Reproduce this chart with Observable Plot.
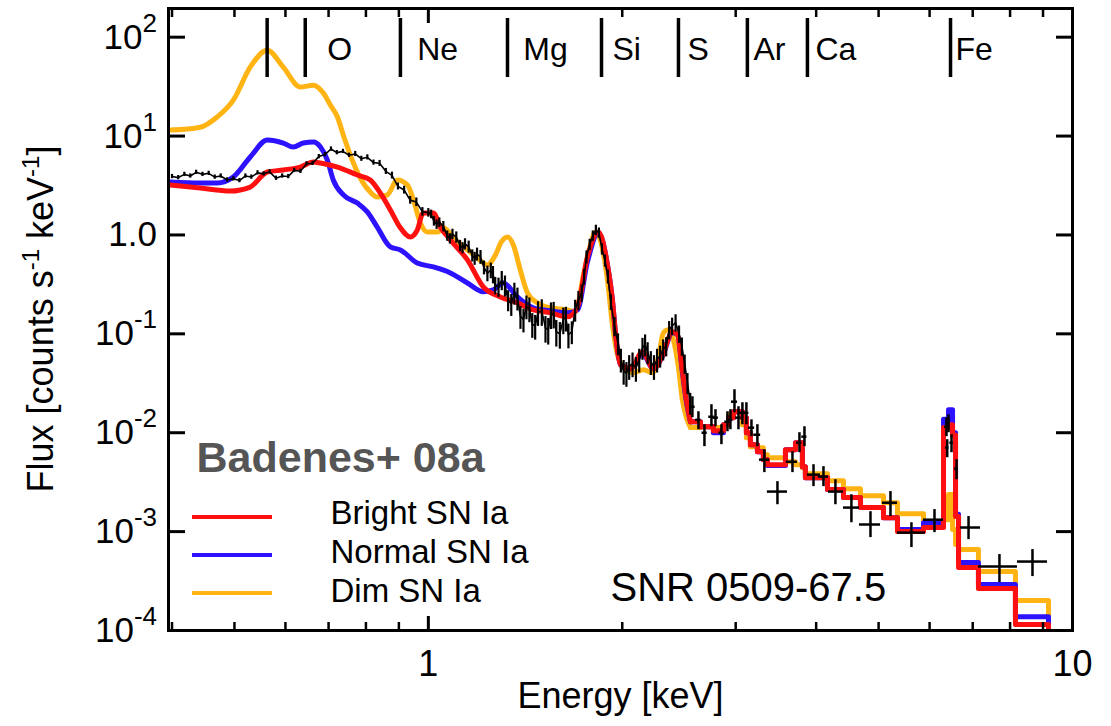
<!DOCTYPE html>
<html><head><meta charset="utf-8">
<script src="https://cdn.jsdelivr.net/npm/d3@7"></script>
<script src="https://cdn.jsdelivr.net/npm/@observablehq/plot@0.6"></script>
<style>
html,body{margin:0;padding:0;background:#fff;}
#chart{position:relative;width:1111px;height:726px;}
</style></head><body><div id="chart"></div>
<script>
// ---------- Data (energies in keV, flux in counts s^-1 keV^-1) ----------
// Observed spectrum, dense low-energy part
const dataE = [0.400,0.409,0.418,0.427,0.436,0.446,0.456,0.466,0.476,0.487,
  0.498,0.509,0.520,0.531,0.543,0.555,0.567,0.580,0.593,0.606,
  0.619,0.633,0.647,0.661,0.676,0.691,0.706,0.721,0.737,0.753,
  0.770,0.787,0.804,0.822,0.840,0.859,0.878,0.897,0.917,0.937,
  0.958,0.979,
  1.00,1.01,1.02,1.03,1.04,1.055,1.07,1.08,1.09,1.105,
  1.12,1.13,1.14,1.155,1.17,1.18,1.19,1.205,1.22,1.235,
  1.25,1.26,1.27,1.285,1.30,1.315,1.33,1.345,1.36,1.375,
  1.39,1.405,1.42,1.435,1.45,1.465,1.48,1.50,1.52,1.535,
  1.55,1.565,1.58,1.60,1.62,1.635,1.65,1.67,1.69,1.71,
  1.73,1.745,1.76,1.78,1.80,1.82,1.84,1.86,1.88,1.90,
  1.92,1.945,1.97,1.99,2.01,2.03,2.05,2.075,2.10,2.125,
  2.15,2.17,2.19,2.215,2.24,2.265,2.29,2.315,2.34,2.365,
  2.39,2.42,2.45,2.475,2.50,2.525,2.55];
const dataF = [3.9,3.8,4.1,3.95,4.3,4.1,4.2,3.85,3.95,3.6,
  3.7,3.55,3.95,3.85,4.25,4.15,4.35,3.75,3.95,3.9,
  4.5,4.4,5.25,5.3,6.2,6.5,7.4,6.8,7.0,6.4,
  6.6,5.9,6.1,5.4,5.3,4.4,4.0,3.1,2.85,2.25,
  2.15,1.72,
  1.68,1.62,1.38,1.28,1.34,1.22,0.98,0.92,1.02,0.95,
  0.78,0.74,0.81,0.76,0.62,0.58,0.64,0.6,0.47,0.41,
  0.44,0.4,0.31,0.3,0.35,0.31,0.22,0.2,0.26,0.23,
  0.15,0.14,0.19,0.18,0.125,0.12,0.165,0.17,0.115,0.11,
  0.158,0.16,0.105,0.1,0.14,0.145,0.098,0.105,0.175,0.22,
  0.26,0.38,0.6,0.8,0.98,1.12,1.05,0.72,0.55,0.38,
  0.21,0.12,0.08,0.055,0.042,0.04,0.047,0.05,0.045,0.055,
  0.072,0.078,0.065,0.052,0.047,0.055,0.06,0.07,0.075,0.11,
  0.12,0.13,0.1,0.075,0.05,0.032,0.02];
const dataErr = [0.05,0.05,0.05,0.05,0.05,0.05,0.05,0.05,0.05,0.05,
  0.05,0.05,0.05,0.05,0.05,0.05,0.05,0.05,0.05,0.05,
  0.05,0.05,0.05,0.05,0.05,0.05,0.05,0.05,0.05,0.05,
  0.06,0.06,0.06,0.06,0.07,0.07,0.08,0.08,0.09,0.09,
  0.10,0.10,
  0.10,0.10,0.11,0.11,0.11,0.12,0.12,0.12,0.12,0.13,
  0.13,0.13,0.13,0.14,0.14,0.15,0.15,0.16,0.16,0.18,
  0.18,0.20,0.20,0.22,0.22,0.24,0.24,0.25,0.25,0.26,
  0.26,0.27,0.27,0.28,0.28,0.28,0.28,0.30,0.30,0.30,
  0.30,0.30,0.30,0.30,0.30,0.28,0.28,0.26,0.25,0.22,
  0.20,0.18,0.15,0.13,0.12,0.12,0.12,0.13,0.14,0.16,
  0.18,0.22,0.25,0.27,0.28,0.28,0.28,0.28,0.28,0.27,
  0.25,0.25,0.25,0.27,0.28,0.27,0.25,0.24,0.22,0.21,
  0.20,0.20,0.20,0.21,0.22,0.24,0.25];

// Observed spectrum, binned high-energy part (crosses)
const crossE   = [2.570,2.626,2.683,2.751,2.791,2.851,2.913,2.944,2.987,3.030,3.073,3.117,3.174,3.242,3.324,3.483,3.675,3.768,3.836,3.962,4.106,4.285,4.537,4.857,5.217,5.623,6.106,6.373,6.420,6.390,6.489,6.607,6.896,7.702,8.667];
const crossELo = [2.545,2.600,2.660,2.725,2.765,2.825,2.885,2.915,2.955,3.000,3.045,3.090,3.140,3.200,3.266,3.360,3.596,3.730,3.800,3.877,4.032,4.180,4.410,4.670,5.070,5.349,5.871,6.330,6.380,6.350,6.450,6.560,6.702,7.145,8.214];
const crossEHi = [2.595,2.650,2.710,2.780,2.820,2.880,2.940,2.970,3.020,3.060,3.100,3.145,3.210,3.280,3.385,3.610,3.741,3.800,3.870,4.062,4.180,4.410,4.670,5.034,5.349,5.911,6.306,6.410,6.460,6.430,6.530,6.650,7.197,8.214,9.146];
const crossF   = [0.0183,0.0135,0.0100,0.0145,0.0142,0.0100,0.0129,0.0135,0.0206,0.0142,0.0159,0.0159,0.01124,0.00954,0.00534,0.00254,0.00509,0.00793,0.00912,0.00377,0.0036,0.00254,0.00175,0.00118,0.00196,0.000977,0.00132,0.0115,0.0126,0.00706,0.00793,0.00433,0.0011,0.000443,0.000498];
const crossFLo = [0.0142,0.01072,0.00723,0.0115,0.0115,0.00757,0.01023,0.01072,0.0159,0.01072,0.01205,0.01205,0.00912,0.00723,0.00395,0.00187,0.00395,0.00628,0.00723,0.00285,0.00285,0.00187,0.00123,0.00087,0.00142,0.00069,0.000977,0.00912,0.0100,0.00559,0.00628,0.00335,0.00083,0.000305,0.000351];
const crossFHi = [0.0231,0.0163,0.01205,0.0192,0.0171,0.01205,0.0163,0.0171,0.0272,0.0183,0.0201,0.0201,0.0135,0.01205,0.00674,0.0032,0.00643,0.0100,0.0115,0.00475,0.00454,0.00335,0.00236,0.00159,0.00254,0.00123,0.00167,0.0142,0.0152,0.0085,0.00954,0.00534,0.00142,0.000586,0.000658];

// Models, smooth part
const redE = [0.3975,0.4426,0.4927,0.529,0.5623,0.5953,0.6327,0.663,0.680,0.7225,0.776,0.8126,0.842,0.873,0.905,0.938,0.961,0.982,1.018,1.044,1.082,1.15,1.217,1.294,1.375,1.455,1.547,1.644,1.704,1.766,1.837,1.897,1.931,1.952,1.987,2.06,2.149,2.236,2.308,2.393,2.436,2.479,2.515,2.552];
const redF = [3.2,2.98,2.78,3.05,4.33,4.54,4.86,5.46,5.34,4.86,4.04,3.59,2.66,1.79,1.18,0.955,1.12,1.67,1.67,1.2,0.89,0.559,0.298,0.236,0.206,0.1748,0.163,0.1485,0.1874,0.6,1.07,0.498,0.22,0.1023,0.0486,0.0443,0.0658,0.0443,0.06,0.1048,0.0977,0.0433,0.0216,0.0129];
const blueE = [0.3975,0.4426,0.470,0.498,0.529,0.5623,0.5953,0.617,0.6395,0.663,0.680,0.697,0.712,0.738,0.776,0.804,0.833,0.873,0.905,0.961,1.018,1.082,1.15,1.217,1.261,1.307,1.375,1.455,1.547,1.644,1.704,1.766,1.837,1.897,1.931,1.952,1.987,2.06,2.149,2.236,2.308,2.393,2.436,2.479,2.515,2.552];
const blueF = [3.43,3.35,3.35,3.85,6.14,9.12,8.5,7.74,8.5,8.7,7.74,5.72,3.59,2.54,2.1,1.71,1.2,0.757,0.706,0.521,0.475,0.413,0.327,0.266,0.278,0.327,0.236,0.183,0.1707,0.163,0.1748,0.534,1.05,0.4975,0.22,0.1023,0.0486,0.0443,0.0628,0.0443,0.0586,0.1023,0.0977,0.0414,0.0206,0.0129];
const orangeE = [0.3975,0.4426,0.470,0.498,0.529,0.5623,0.5953,0.6327,0.663,0.687,0.7045,0.7225,0.738,0.7566,0.784,0.8126,0.833,0.8636,0.895,0.928,0.948,0.972,0.996,1.033,1.055,1.101,1.15,1.191,1.235,1.271,1.298,1.327,1.355,1.389,1.425,1.476,1.547,1.644,1.692,1.741,1.785,1.817,1.849,1.897,1.931,1.966,2.008,2.081,2.157,2.228,2.276,2.317,2.359,2.401,2.444,2.479,2.515,2.552];
const orangeF = [11.5,12.3,15.6,23.1,49.8,73.9,49.8,31.3,32.7,27.2,20.6,15.6,10.2,6.43,3.77,2.72,2.42,2.54,3.59,3.2,2.26,1.32,1.07,1.07,1.18,0.89,0.706,0.586,0.498,0.628,0.85,0.955,0.792,0.443,0.26,0.206,0.183,0.1748,0.1668,0.394,0.792,1.07,0.89,0.351,0.1233,0.0614,0.0465,0.0404,0.0433,0.0404,0.0586,0.1023,0.1097,0.087,0.0465,0.0216,0.0142,0.0113];

// Models, binned part (bin left edges, last value = right edge of final bin)
const stepE = [2.552,2.645,2.770,2.872,2.924,2.976,3.073,3.117,3.162,3.242,3.312,3.360,3.584,3.715,3.808,3.849,4.165,4.410,4.686,5.088,5.349,5.871,6.306,6.420,6.513,6.583,6.654,7.145,8.155,9.178];
const redStep = [0.0129,0.0115,0.01048,0.01205,0.0142,0.0163,0.0142,0.0100,0.00757,0.00643,0.00534,0.00475,0.00674,0.00793,0.00454,0.00351,0.00266,0.00221,0.00175,0.00138,0.00100,0.0011,0.0113,0.01205,0.0095,0.00142,0.000433,0.000266,0.000115,0.00008];
const blueStep = [0.0129,0.0115,0.0100,0.01205,0.0142,0.0163,0.0142,0.0100,0.00757,0.00643,0.00534,0.00465,0.00674,0.00793,0.00454,0.00351,0.00266,0.00221,0.00175,0.00138,0.00105,0.00123,0.0137,0.0171,0.0100,0.0015,0.000486,0.000292,0.000138,0.00008];
const orangeStep = [0.0113,0.0115,0.0113,0.01205,0.0152,0.0163,0.01205,0.0089,0.00723,0.00706,0.006,0.00559,0.00509,0.00475,0.00443,0.00385,0.00327,0.00272,0.00231,0.00196,0.00152,0.00126,0.00132,0.00237,0.00105,0.00074,0.000658,0.000394,0.000201,0.00008];

// Element line markers
const lineE = [0.562,0.644,0.905,1.327,1.857,2.445,3.128,3.877,6.466];
const elNames = ["O","Ne","Mg","Si","S","Ar","Ca","Fe"];
const labelE = [0.697,0.961,1.404,1.931,2.525,3.196,3.990,6.583];

// Axes
const yTicks = [1e-4,1e-3,1e-2,1e-1,1,10,100];
const yExp = [-4,-3,-2,-1,0,1,2];
const xMinor = [0.4,0.5,0.6,0.7,0.8,0.9,2,3,4,5,6,7,8,9];
const xMajor = [1,10];

const legendNames = ["Bright SN Ia","Normal SN Ia","Dim SN Ia"];
const legendColors = ["#ff1010","#2d12ff","#ffb414"];

// ---------- Chart ----------
const FONT = "'Liberation Sans', Arial, Helvetica, sans-serif";
const W = 1111, H = 726, mL = 168, mR = 39, mT = 8, mB = 96;
const rows = (E, F) => E.map((e, i) => ({E: e, F: F[i]}));
const models = [
  {color: "#ffb414", smooth: rows(orangeE, orangeF), step: rows(stepE, orangeStep)},
  {color: "#2d12ff", smooth: rows(blueE, blueF), step: rows(stepE, blueStep)},
  {color: "#ff1010", smooth: rows(redE, redF), step: rows(stepE, redStep)}
];
const data = dataE.map((e, i) => ({E: e, F: dataF[i], lo: dataF[i] * (1 - dataErr[i]), hi: dataF[i] * (1 + dataErr[i])}));
const crosses = crossE.map((e, i) => ({E: e, elo: crossELo[i], ehi: crossEHi[i], F: crossF[i], flo: crossFLo[i], fhi: crossFHi[i]}));

const plot = Plot.plot({
  width: W, height: H,
  marginLeft: mL, marginRight: mR, marginTop: mT, marginBottom: mB,
  style: {fontFamily: FONT, background: "white", color: "black"},
  x: {type: "log", domain: [0.395, 10]},
  y: {type: "log", domain: [1e-4, 195]},
  marks: [
    ...models.flatMap(m => [
      Plot.line(m.smooth, {x: "E", y: "F", stroke: m.color, strokeWidth: 5, curve: "monotone-x", clip: true}),
      Plot.line(m.step, {x: "E", y: "F", stroke: m.color, strokeWidth: 5, curve: "step-after", clip: true})
    ]),
    Plot.ruleX(data, {x: "E", y1: "lo", y2: "hi", stroke: "black", strokeWidth: 2.2}),
    Plot.line(data, {x: "E", y: "F", stroke: "black", strokeWidth: 1.6}),
    Plot.ruleX(crosses, {x: "E", y1: "flo", y2: "fhi", stroke: "black", strokeWidth: 2.5}),
    Plot.ruleY(crosses, {y: "F", x1: "elo", x2: "ehi", stroke: "black", strokeWidth: 2.5}),
    // element markers
    Plot.ruleX(lineE, {x: d => d, insetTop: 10, insetBottom: 553, stroke: "black", strokeWidth: 3.5}),
    Plot.text(elNames, {x: labelE, text: d => d, frameAnchor: "top", dy: 29, lineAnchor: "top", textAnchor: "start", fontSize: 32, fill: "black"}),
    // annotations
    Plot.text(["Badenes+ 08a"], {frameAnchor: "top-left", dx: 28, dy: 433, lineAnchor: "top", textAnchor: "start", fontSize: 43, fontWeight: "bold", fill: "#555555"}),
    ...legendNames.map((n, i) => Plot.text([n], {frameAnchor: "top-left", dx: 162, dy: 492 + 39 * i, lineAnchor: "top", textAnchor: "start", fontSize: 33, fill: "black"})),
    Plot.text(["SNR 0509-67.5"], {frameAnchor: "top-left", dx: 442, dy: 564, lineAnchor: "top", textAnchor: "start", fontSize: 40, fill: "black"}),
    // axes (inward ticks)
    Plot.axisY(yTicks, {anchor: "left", tickSize: -17, tickFormat: () => "", strokeWidth: 3, label: null}),
    Plot.axisY(yTicks, {anchor: "right", tickSize: -17, tickFormat: () => "", strokeWidth: 3, label: null}),
    Plot.axisX(xMinor, {anchor: "bottom", tickSize: -8, tickFormat: () => "", strokeWidth: 2.5, label: null}),
    Plot.axisX(xMinor, {anchor: "top", tickSize: -8, tickFormat: () => "", strokeWidth: 2.5, label: null}),
    Plot.axisX(xMajor, {anchor: "bottom", tickSize: -14, tickFormat: () => "", strokeWidth: 3, label: null}),
    Plot.axisX(xMajor, {anchor: "top", tickSize: -14, tickFormat: () => "", strokeWidth: 3, label: null}),
    Plot.axisX(xMajor, {anchor: "bottom", tickSize: 0, tickPadding: 20, tickFormat: d => String(d), fontSize: 36, label: null}),
    Plot.text(["Energy [keV]"], {frameAnchor: "bottom", dy: 52, lineAnchor: "top", fontSize: 36, fill: "black"}),
    Plot.frame({stroke: "black", strokeWidth: 3})
  ]
});
document.getElementById("chart").appendChild(plot);

// y tick labels with superscripts, positioned with the plot's y scale
const svg = d3.select(plot);
const ys = plot.scale("y");
yTicks.forEach((v, i) => {
  const py = ys.apply(v);
  const t = svg.append("text")
    .attr("x", mL - 11).attr("y", py + 12)
    .attr("text-anchor", "end")
    .attr("font-family", FONT).attr("font-size", 35).attr("fill", "black");
  if (yExp[i] === 0) {
    t.text("1.0");
  } else {
    t.append("tspan").text("10");
    t.append("tspan").attr("dy", -17).attr("font-size", 26).text(String(yExp[i]));
  }
});

// y axis title
const yt = svg.append("text")
  .attr("transform", `translate(53, ${(mT + H - mB) / 2}) rotate(-90)`)
  .attr("text-anchor", "middle")
  .attr("font-family", FONT).attr("font-size", 36).attr("fill", "black");
yt.append("tspan").text("Flux [counts s");
yt.append("tspan").attr("dy", -14).attr("font-size", 24).text("-1");
yt.append("tspan").attr("dy", 14).text(" keV");
yt.append("tspan").attr("dy", -14).attr("font-size", 24).text("-1");
yt.append("tspan").attr("dy", 14).text("]");

// legend swatches
legendColors.forEach((c, i) => {
  svg.append("line")
    .attr("x1", mL + 24).attr("x2", mL + 104)
    .attr("y1", 517 + 38 * i).attr("y2", 517 + 38 * i)
    .attr("stroke", c).attr("stroke-width", 4);
});
</script>
</body></html>
